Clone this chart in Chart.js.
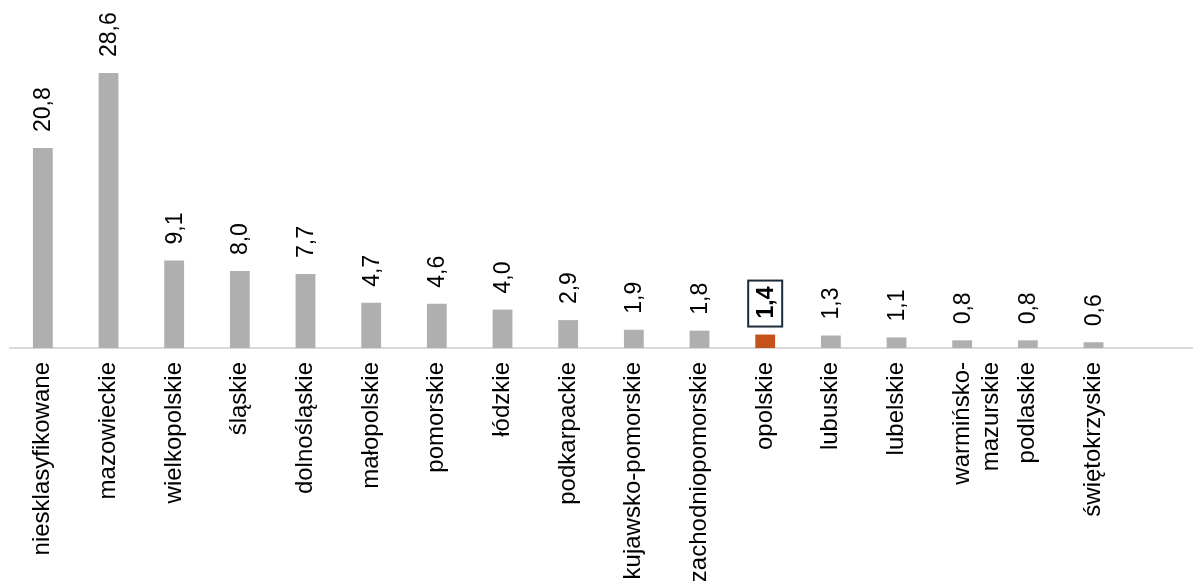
<!DOCTYPE html>
<html>
<head>
<meta charset="utf-8">
<script src="https://cdn.jsdelivr.net/npm/chart.js@4.4.0/dist/chart.umd.min.js"></script>
<style>
    html, body { margin: 0; padding: 0; background: #fff; overflow: hidden; }
    #wrap { width: 1202px; height: 581px; position: relative; }
</style>
</head>
<body>
<div id="wrap"><canvas id="barChart"></canvas></div>
<script>
// regions (last slot is empty, the axis runs on past the last bar)
const regions = [
    'niesklasyfikowane', 'mazowieckie', 'wielkopolskie', 'śląskie', 'dolnośląskie',
    'małopolskie', 'pomorskie', 'łódzkie', 'podkarpackie', 'kujawsko-pomorskie',
    'zachodniopomorskie', 'opolskie', 'lubuskie', 'lubelskie', ['warmińsko-', 'mazurskie'],
    'podlaskie', 'świętokrzyskie', ''
];
const shares = [20.8, 28.6, 9.1, 8.0, 7.7, 4.7, 4.6, 4.0, 2.9, 1.9, 1.8, 1.4, 1.3, 1.1, 0.8, 0.8, 0.6, null];
const highlighted = 'opolskie';

const GREY = '#afafaf';
const ORANGE = '#c4521a';
const FONT = "'Liberation Sans', Arial, sans-serif";

const formatValue = v => v.toFixed(1).replace('.', ',');

const barColors = regions.map(r => r === highlighted ? ORANGE : GREY);

// value labels above bars, rotated, with a box round the highlighted one
const valueLabels = {
    id: 'valueLabels',
    afterDatasetsDraw(chart) {
        const ctx = chart.ctx;
        const meta = chart.getDatasetMeta(0);
        meta.data.forEach((bar, i) => {
            const v = shares[i];
            if (v == null) return;
            const isHi = regions[i] === highlighted;
            const text = formatValue(v);
            ctx.save();
            ctx.translate(bar.x, bar.y - 16);
            ctx.rotate(-Math.PI / 2);
            ctx.font = (isHi ? 'bold ' : '') + '23px ' + FONT;
            ctx.fillStyle = '#000';
            ctx.textAlign = 'left';
            ctx.textBaseline = 'middle';
            ctx.fillText(text, 0, 1);
            if (isHi) {
                const w = ctx.measureText(text).width;
                ctx.strokeStyle = '#1d2b3a';
                ctx.lineWidth = 2;
                ctx.strokeRect(-8, -17, w + 14, 34);
            }
            ctx.restore();
        });
    }
};

new Chart(document.getElementById('barChart'), {
    type: 'bar',
    data: {
        labels: regions,
        datasets: [{
            data: shares,
            backgroundColor: barColors,
            barPercentage: 0.302,
            categoryPercentage: 1
        }]
    },
    options: {
        responsive: true,
        maintainAspectRatio: false,
        animation: false,
        layout: { padding: { left: 10, right: 0, top: 0, bottom: 0 } },
        plugins: {
            legend: { display: false },
            tooltip: { enabled: false }
        },
        scales: {
            x: {
                grid: { display: false, drawTicks: false },
                border: { display: true, color: '#d9d9d9', width: 2 },
                ticks: {
                    autoSkip: false,
                    minRotation: 90,
                    maxRotation: 90,
                    padding: 14,
                    color: '#000',
                    font: { family: FONT, size: 24 }
                },
                afterFit(scale) {
                    scale.height = 233;
                }
            },
            y: {
                display: false,
                min: 0,
                max: 36.2
            }
        }
    },
    plugins: [valueLabels]
});
</script>
</body>
</html>
